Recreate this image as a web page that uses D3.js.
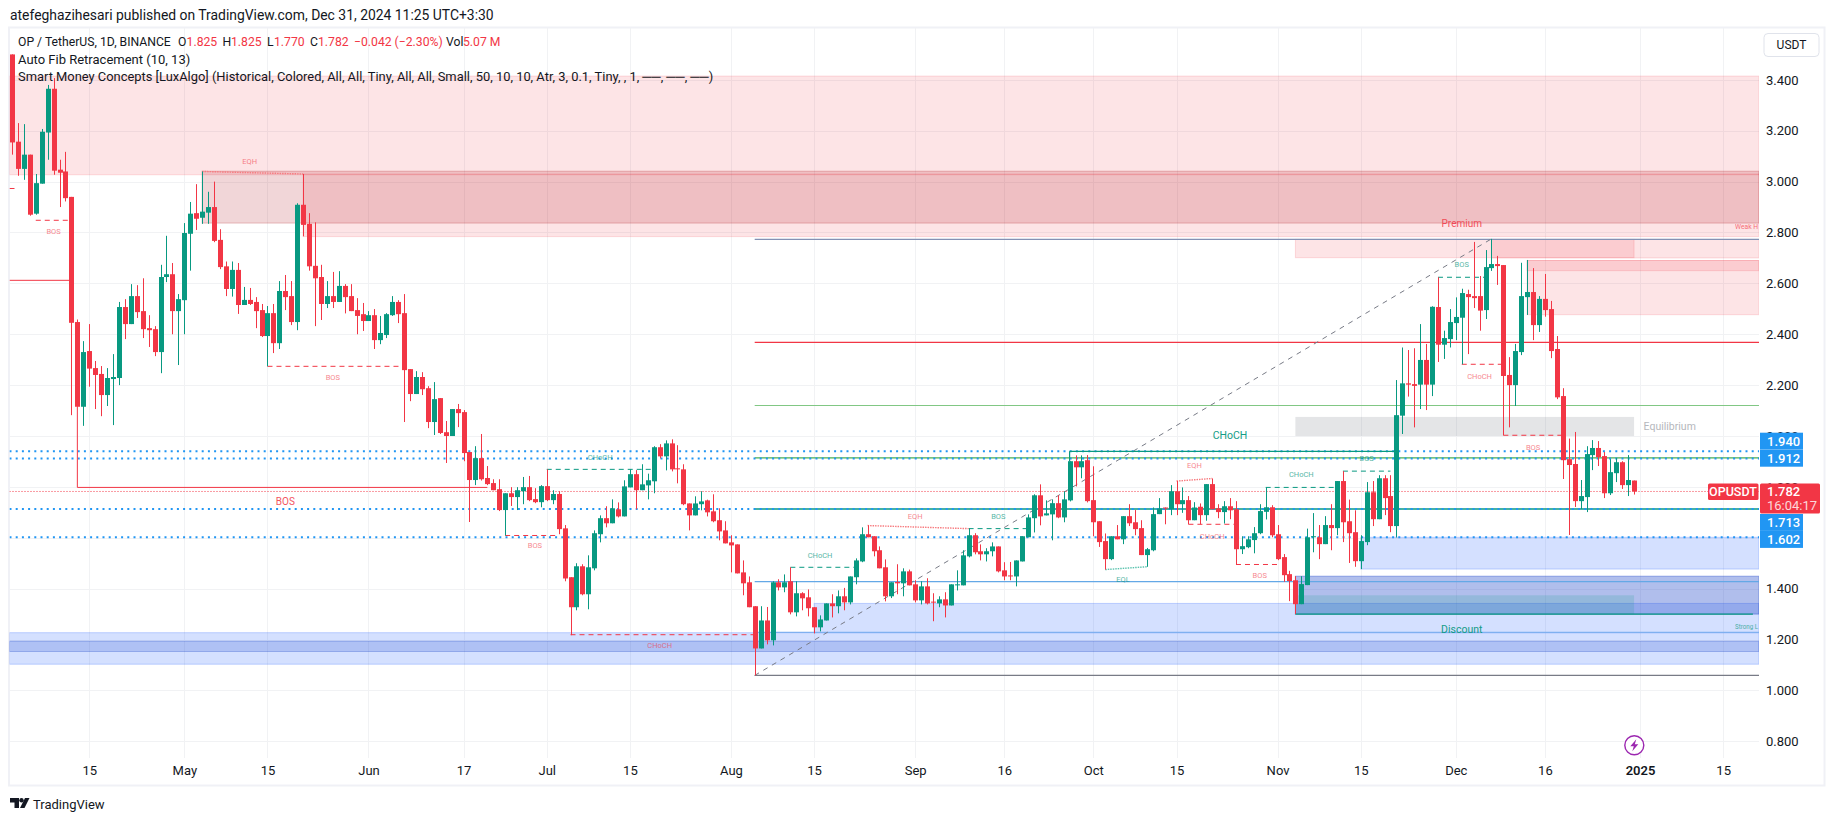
<!DOCTYPE html>
<html><head><meta charset="utf-8">
<script src="https://cdn.jsdelivr.net/npm/d3@7/dist/d3.min.js"></script>
<style>html,body{margin:0;padding:0;background:#fff}svg{display:block}text{font-family:Roboto,"Noto Sans",sans-serif}</style>
</head><body><div id="c"></div>
<script>
// [open, high, low, close] per day
const aprCandles=[[3.5,3.5,3.106,3.154],[3.157,3.23,3.023,3.05],[3.05,3.226,3.007,3.106],[3.106,3.106,2.866,2.87],[2.874,3.03,2.87,2.994],[2.992,3.207,2.992,3.196],[3.193,3.38,3.086,3.365],[3.365,3.407,3.027,3.043],[3.047,3.086,2.9,3.035],[3.04,3.117,2.922,2.935],[2.94,2.94,2.082,2.445],[2.448,2.458,2.115,2.115],[2.115,2.373,2.04,2.33],[2.334,2.44,2.194,2.265],[2.267,2.295,2.106,2.24],[2.244,2.275,2.078,2.161],[2.161,2.267,2.118,2.228],[2.224,2.322,2.043,2.232],[2.228,2.527,2.2,2.507],[2.507,2.538,2.381,2.44],[2.44,2.597,2.44,2.55],[2.55,2.593,2.464,2.487],[2.491,2.62,2.385,2.42],[2.424,2.475,2.35,2.416],[2.42,2.432,2.314,2.33],[2.33,2.673,2.247,2.625],[2.625,2.787,2.605,2.636],[2.636,2.68,2.4,2.491],[2.491,2.558,2.279,2.538]];
const mayCandles=[[2.534,2.837,2.4,2.798],[2.795,2.92,2.65,2.874],[2.876,2.99,2.81,2.854],[2.858,3.04,2.834,2.882],[2.878,2.96,2.834,2.9],[2.9,3.0,2.762,2.767],[2.771,2.813,2.656,2.664],[2.667,2.686,2.55,2.578],[2.578,2.686,2.548,2.653],[2.653,2.68,2.48,2.515],[2.515,2.586,2.515,2.535],[2.535,2.582,2.515,2.519],[2.527,2.546,2.424,2.491],[2.495,2.519,2.389,2.393],[2.393,2.511,2.274,2.483],[2.483,2.519,2.326,2.365],[2.365,2.609,2.342,2.57],[2.57,2.633,2.495,2.546],[2.55,2.609,2.436,2.448],[2.448,2.915,2.416,2.909],[2.909,3.03,2.785,2.83],[2.834,2.876,2.65,2.667],[2.669,2.84,2.432,2.62],[2.625,2.673,2.456,2.519],[2.519,2.609,2.503,2.55],[2.55,2.645,2.503,2.527],[2.527,2.648,2.527,2.59],[2.59,2.597,2.482,2.546],[2.55,2.597,2.491,2.491],[2.495,2.542,2.4,2.472],[2.479,2.523,2.413,2.452]];
const junCandles=[[2.452,2.491,2.452,2.475],[2.475,2.499,2.342,2.377],[2.377,2.472,2.361,2.405],[2.397,2.483,2.385,2.479],[2.475,2.55,2.472,2.527],[2.527,2.534,2.444,2.479],[2.483,2.558,2.055,2.259],[2.263,2.263,2.137,2.165],[2.165,2.255,2.165,2.232],[2.232,2.251,2.161,2.184],[2.188,2.196,2.031,2.055],[2.055,2.212,2.004,2.145],[2.149,2.149,2.008,2.012],[2.015,2.059,1.894,2.0],[2.0,2.106,2.0,2.106],[2.106,2.126,2.035,2.09],[2.094,2.102,1.901,1.933],[1.937,1.937,1.662,1.827],[1.827,1.96,1.807,1.913],[1.913,2.008,1.825,1.83],[1.835,1.882,1.807,1.811],[1.815,1.83,1.787,1.787],[1.791,1.83,1.705,1.709],[1.709,1.775,1.609,1.775],[1.775,1.799,1.725,1.76],[1.76,1.799,1.709,1.787],[1.783,1.839,1.732,1.799],[1.799,1.843,1.744,1.748],[1.752,1.795,1.736,1.74],[1.74,1.807,1.72,1.803]];
const julCandles=[[1.803,1.869,1.744,1.748],[1.748,1.787,1.732,1.772],[1.772,1.783,1.614,1.634],[1.637,1.65,1.429,1.44],[1.445,1.445,1.217,1.327],[1.327,1.5,1.315,1.488],[1.488,1.496,1.374,1.378],[1.378,1.531,1.319,1.484],[1.48,1.629,1.472,1.618],[1.614,1.688,1.582,1.677],[1.677,1.724,1.641,1.657],[1.657,1.751,1.657,1.716],[1.712,1.739,1.68,1.684],[1.684,1.826,1.684,1.802],[1.798,1.869,1.798,1.85],[1.85,1.866,1.712,1.787],[1.787,1.889,1.787,1.81],[1.806,1.852,1.751,1.826],[1.822,1.96,1.775,1.956],[1.956,1.968,1.912,1.92],[1.92,1.983,1.865,1.971],[1.971,1.987,1.861,1.869],[1.873,1.964,1.814,1.869],[1.869,1.889,1.728,1.732],[1.735,1.735,1.629,1.688],[1.688,1.763,1.688,1.735],[1.732,1.783,1.708,1.743],[1.747,1.75,1.684,1.7],[1.704,1.771,1.661,1.665],[1.669,1.716,1.59,1.625],[1.629,1.665,1.578,1.578]];
const augCandles=[[1.582,1.61,1.464,1.57],[1.574,1.574,1.46,1.46],[1.464,1.511,1.374,1.421],[1.425,1.448,1.327,1.327],[1.331,1.331,1.059,1.165],[1.165,1.331,1.165,1.275],[1.275,1.328,1.181,1.197],[1.197,1.429,1.177,1.425],[1.425,1.437,1.393,1.405],[1.405,1.456,1.386,1.425],[1.429,1.484,1.299,1.307],[1.307,1.429,1.291,1.382],[1.382,1.386,1.315,1.362],[1.366,1.397,1.291,1.323],[1.327,1.327,1.224,1.248],[1.248,1.295,1.232,1.279],[1.275,1.342,1.275,1.342],[1.342,1.378,1.287,1.331],[1.331,1.393,1.303,1.37],[1.37,1.403,1.315,1.346],[1.346,1.448,1.338,1.448],[1.445,1.519,1.417,1.511],[1.507,1.641,1.504,1.614],[1.614,1.649,1.602,1.602],[1.606,1.606,1.527,1.547],[1.551,1.566,1.48,1.48],[1.484,1.515,1.35,1.37],[1.37,1.425,1.363,1.425],[1.426,1.496,1.378,1.421],[1.421,1.48,1.37,1.468],[1.468,1.475,1.413,1.413]];
const sepCandles=[[1.417,1.433,1.346,1.354],[1.354,1.429,1.338,1.409],[1.409,1.441,1.338,1.342],[1.349,1.382,1.272,1.346],[1.342,1.37,1.327,1.358],[1.358,1.386,1.287,1.334],[1.334,1.417,1.334,1.417],[1.413,1.472,1.393,1.417],[1.413,1.551,1.413,1.531],[1.527,1.637,1.523,1.61],[1.61,1.618,1.535,1.543],[1.547,1.574,1.511,1.535],[1.535,1.559,1.507,1.547],[1.547,1.582,1.527,1.566],[1.566,1.566,1.464,1.468],[1.472,1.504,1.433,1.448],[1.452,1.505,1.433,1.448],[1.448,1.511,1.409,1.511],[1.507,1.606,1.507,1.606],[1.602,1.692,1.602,1.68],[1.677,1.771,1.621,1.767],[1.767,1.81,1.649,1.684],[1.688,1.747,1.688,1.696],[1.692,1.751,1.59,1.736],[1.736,1.767,1.677,1.68],[1.68,1.783,1.661,1.751],[1.747,1.901,1.743,1.901],[1.901,1.924,1.802,1.877],[1.877,1.924,1.834,1.901],[1.905,1.925,1.739,1.744]];
const octCandles=[[1.748,1.881,1.606,1.661],[1.665,1.665,1.564,1.583],[1.587,1.617,1.475,1.516],[1.516,1.606,1.512,1.606],[1.606,1.65,1.594,1.594],[1.594,1.685,1.575,1.685],[1.685,1.732,1.646,1.657],[1.661,1.709,1.61,1.634],[1.638,1.669,1.532,1.532],[1.532,1.56,1.486,1.555],[1.551,1.719,1.547,1.693],[1.693,1.756,1.693,1.715],[1.719,1.719,1.653,1.715],[1.712,1.807,1.689,1.783],[1.783,1.823,1.689,1.732],[1.732,1.798,1.698,1.748],[1.748,1.764,1.653,1.669],[1.669,1.74,1.669,1.719],[1.722,1.735,1.653,1.689],[1.689,1.811,1.667,1.811],[1.811,1.833,1.712,1.712],[1.716,1.732,1.677,1.701],[1.701,1.744,1.656,1.724],[1.724,1.756,1.673,1.708],[1.712,1.744,1.495,1.555],[1.555,1.606,1.536,1.567],[1.563,1.606,1.559,1.594],[1.591,1.642,1.539,1.618],[1.618,1.732,1.614,1.705],[1.702,1.798,1.672,1.72],[1.72,1.728,1.602,1.61]];
const novCandles=[[1.614,1.65,1.512,1.516],[1.524,1.536,1.427,1.453],[1.457,1.47,1.351,1.43],[1.433,1.449,1.3,1.339],[1.339,1.449,1.339,1.418],[1.414,1.636,1.414,1.602],[1.602,1.697,1.543,1.606],[1.602,1.65,1.516,1.575],[1.575,1.685,1.575,1.65],[1.65,1.732,1.551,1.638],[1.638,1.823,1.61,1.823],[1.823,1.862,1.583,1.661],[1.665,1.75,1.501,1.618],[1.622,1.708,1.486,1.508],[1.508,1.61,1.477,1.587],[1.583,1.819,1.571,1.779],[1.779,1.823,1.646,1.673],[1.673,1.846,1.673,1.834],[1.834,1.846,1.689,1.756],[1.764,1.846,1.622,1.646],[1.646,2.22,1.601,2.082],[2.08,2.348,2.008,2.207],[2.207,2.338,2.155,2.202],[2.204,2.345,2.034,2.197],[2.202,2.44,2.106,2.299],[2.299,2.362,2.102,2.202],[2.202,2.51,2.157,2.508],[2.507,2.624,2.291,2.359],[2.359,2.414,2.303,2.385],[2.381,2.499,2.348,2.448]];
const decCandles=[[2.444,2.545,2.377,2.468],[2.465,2.579,2.282,2.562],[2.558,2.575,2.322,2.546],[2.55,2.763,2.503,2.542],[2.55,2.629,2.414,2.493],[2.495,2.731,2.46,2.664],[2.66,2.775,2.649,2.676],[2.676,2.708,2.594,2.668],[2.672,2.672,2.003,2.236],[2.24,2.31,2.034,2.2],[2.2,2.362,2.118,2.334],[2.33,2.681,2.318,2.55],[2.546,2.692,2.476,2.566],[2.566,2.66,2.377,2.436],[2.436,2.55,2.409,2.539],[2.539,2.637,2.469,2.495],[2.499,2.531,2.306,2.334],[2.342,2.393,2.145,2.152],[2.157,2.188,1.831,1.905],[1.909,1.99,1.611,1.886],[1.89,2.016,1.721,1.744],[1.744,1.827,1.713,1.764],[1.76,1.96,1.701,1.929],[1.925,1.984,1.866,1.953],[1.953,1.98,1.882,1.917],[1.921,1.937,1.756,1.775],[1.775,1.909,1.768,1.858],[1.854,1.913,1.819,1.897],[1.897,1.901,1.792,1.807],[1.807,1.925,1.764,1.827],[1.825,1.825,1.77,1.782]];

const firstDay="2024-04-02";
const priceTicks=[0.8,1.0,1.2,1.4,1.6,1.8,2.0,2.2,2.4,2.6,2.8,3.0,3.2,3.4];
const timeTicks=["2024-04-15","2024-05-01","2024-05-15","2024-06-01","2024-06-17","2024-07-01","2024-07-15","2024-08-01","2024-08-15","2024-09-01","2024-09-16","2024-10-01","2024-10-15","2024-11-01","2024-11-15","2024-12-01","2024-12-16","2025-01-01","2025-01-15"];
const timeLabels=["15","May","15","Jun","17","Jul","15","Aug","15","Sep","16","Oct","15","Nov","15","Dec","16","2025","15"];

// zones: [from, to, price low, price high, kind]; null means the pane edge
const zones=[
 [null,null,3.027,3.415,"red"],
 ["2024-05-21",null,2.784,3.03,"red"],
 ["2024-05-04",null,2.837,3.041,"maroon"],
 ["2024-12-07",null,2.70,2.773,"red"],
 ["2024-12-13",null,2.477,2.69,"red"],
 ["2024-12-13",null,2.65,2.69,"red"],
 ["2024-11-04","2024-12-31",2.701,2.773,"red"],
 ["2024-11-04","2024-12-31",2.0,2.075,"grey"],
 [null,null,1.103,1.227,"blue"],
 [null,null,1.153,1.193,"band"],
 ["2024-08-15",null,1.227,1.342,"blue"],
 ["2024-11-15",null,1.477,1.602,"blue"],
 ["2024-11-04",null,1.30,1.449,"navy"],
 ["2024-11-04","2024-12-31",1.30,1.374,"teal"]];

// fib levels that start at the Aug 5 low
const fibStart="2024-08-05";
const fibLevels=[[2.773,"#8391b4"],[2.368,"#f23645"],[2.12,"#81c784"],[1.914,"#4caf50"],[1.713,"#089981"],[1.4275,"#64a8e6"],[1.228,"#7fb0f0"],[1.059,"#787b86"]];
const fibTrend=[["2024-08-05",1.059],["2024-12-07",2.775]];

const dottedLevels=[1.940,1.912,1.713,1.602];
const lastPrice=1.782;

// structure lines: [from, price, to, price, kind]
const structure=[
 [null,2.973,"2024-04-03",2.973,"dashRed"],["2024-04-06",2.848,"2024-04-12",2.848,"dashRed"],
 [null,2.612,"2024-04-12",2.612,"solidRed"],
 ["2024-05-15",2.274,"2024-06-07",2.274,"dashRed"],["2024-06-24",1.609,"2024-07-03",1.609,"dashRed"],
 ["2024-07-01",1.869,"2024-07-19",1.869,"dashGreen"],["2024-07-05",1.219,"2024-08-05",1.219,"dashRed"],
 ["2024-08-11",1.484,"2024-08-22",1.484,"dashGreen"],["2024-09-10",1.636,"2024-09-20",1.636,"dashGreen"],
 ["2024-10-17",1.653,"2024-10-25",1.653,"dashRed"],["2024-10-25",1.495,"2024-11-01",1.495,"dashRed"],
 ["2024-10-30",1.798,"2024-11-11",1.798,"dashGreen"],["2024-11-12",1.862,"2024-11-20",1.862,"dashGreen"],
 ["2024-11-28",2.624,"2024-12-06",2.624,"dashGreen"],["2024-12-02",2.282,"2024-12-09",2.282,"dashRed"],
 ["2024-12-09",2.003,"2024-12-19",2.003,"dashRed"],
 ["2024-05-04",3.04,"2024-05-21",3.03,"dotRed"],["2024-08-24",1.648,"2024-09-10",1.636,"dotRed"],
 ["2024-10-15",1.823,"2024-10-21",1.833,"dotRed"],["2024-10-03",1.475,"2024-10-10",1.486,"dotGreen"],
 ["2024-04-13",2.115,"2024-04-13",1.798,"solidRed"],["2024-04-13",1.798,"2024-06-21",1.798,"solidRed"],
 ["2024-09-27",1.90,"2024-09-27",1.94,"solidGreen"],["2024-09-27",1.94,"2024-11-21",1.94,"solidGreen"],
 ["2024-11-04",1.30,"2025-01-20",1.30,"solidGreen"]];

// pane labels: [text, date, price, kind]
const paneLabels=[
 ["BOS","2024-04-09",2.802,"r"],["EQH","2024-05-12",3.078,"r"],["BOS","2024-05-18",1.742,"R"],["BOS","2024-05-26",2.231,"r"],
 ["BOS","2024-06-29",1.568,"r"],["CHoCH","2024-07-10",1.915,"g"],["CHoCH","2024-07-20",1.177,"r"],["CHoCH","2024-08-16",1.531,"g"],
 ["EQH","2024-09-01",1.683,"r"],["BOS","2024-09-15",1.683,"g"],["CHoCH","2024-10-24",2.001,"G"],["EQH","2024-10-18",1.883,"r"],
 ["EQL","2024-10-06",1.437,"g"],["CHoCH","2024-10-21",1.606,"r"],["CHoCH","2024-11-05",1.848,"g"],["BOS","2024-11-16",1.911,"g"],
 ["BOS","2024-10-29",1.453,"r"],["BOS","2024-12-02",2.675,"g"],["CHoCH","2024-12-05",2.235,"r"],["BOS","2024-12-14",1.956,"r"],
 ["Premium","2024-12-02",2.835,"R"],["Discount","2024-12-02",1.241,"G"],["Equilibrium","2025-01-06",2.037,"e"]];
const clippedLabels=[["Weak H","2025-01-17",2.822,"#f23645"],["Strong L","2025-01-17",1.25,"#089981"]];

const bluePriceTags=[1.940,1.912,1.713,1.602];
const headerLine="atefeghazihesari published on TradingView.com, Dec 31, 2024 11:25 UTC+3:30";
const legendOHLC=[["O","1.825"],["H","1.825"],["L","1.770"],["C","1.782"]];

// ---------------- drawing
const W=1835,H=821,paneL=9.5,paneR=1759,paneT=28,paneB=758;
const GREEN="#089981",RED="#f23645",BLUE="#2196f3",TXT="#131722";
const svg=d3.select("#c").append("svg").attr("width",W).attr("height",H);
const date=s=>new Date(s+"T00:00:00Z");
const x=d3.scaleUtc().domain([date("2024-05-01"),date("2025-01-01")]).range([184.3,1640]);
const y=d3.scaleLinear().domain([0.8,3.4]).range([741.3,741.3-2.6*254.4]);
const X=s=>s===null?paneL:x(date(s));
const XR=s=>s===null?paneR:x(date(s));
const candles=[...aprCandles,...mayCandles,...junCandles,...julCandles,...augCandles,...sepCandles,...octCandles,...novCandles,...decCandles]
 .map((c,i)=>({t:d3.utcDay.offset(date(firstDay),i),o:c[0],h:c[1],l:c[2],c:c[3]}));

svg.append("defs").append("clipPath").attr("id","pane").append("rect").attr("x",paneL).attr("y",paneT).attr("width",paneR-paneL).attr("height",paneB-paneT);
svg.append("rect").attr("x",9).attr("y",27.5).attr("width",1815.5).attr("height",758).attr("fill","none").attr("stroke","#f0f1f6").attr("stroke-width",2);

const g=svg.append("g").attr("clip-path","url(#pane)");
// grid
g.append("g").selectAll("line").data(priceTicks).join("line").attr("x1",paneL).attr("x2",paneR).attr("y1",d=>Math.round(y(d))+.5).attr("y2",d=>Math.round(y(d))+.5).attr("stroke","#f1f2f4");
g.append("g").selectAll("line").data(timeTicks).join("line").attr("x1",d=>Math.round(X(d))+.5).attr("x2",d=>Math.round(X(d))+.5).attr("y1",paneT).attr("y2",paneB).attr("stroke","#f1f2f4");

// zones
const zoneFill={red:"rgba(242,54,69,.135)",maroon:"rgba(167,2,10,.16)",grey:"rgba(120,123,134,.2)",blue:"rgba(41,98,255,.2)",band:"rgba(30,70,200,.2)",navy:"rgba(30,70,200,.35)",teal:"rgba(8,153,129,.16)"};
const zoneLine={red:"rgba(242,54,69,.16)",maroon:"rgba(167,2,10,.22)",grey:"none",blue:"rgba(41,98,255,.25)",band:"rgba(30,70,200,.3)",navy:"rgba(30,70,200,.4)",teal:"none"};
g.append("g").selectAll("rect").data(zones).join("rect")
 .attr("x",d=>X(d[0])).attr("width",d=>XR(d[1])-X(d[0])).attr("y",d=>y(d[3])).attr("height",d=>y(d[2])-y(d[3]))
 .attr("fill",d=>zoneFill[d[4]]).attr("stroke",d=>zoneLine[d[4]]);

// fib
g.append("g").selectAll("line").data(fibLevels).join("line").attr("x1",X(fibStart)).attr("x2",paneR)
 .attr("y1",d=>y(d[0])).attr("y2",d=>y(d[0])).attr("stroke",d=>d[1]).attr("stroke-width",d=>d[0]===1.713?1.6:1.1);
g.append("line").attr("x1",X(fibTrend[0][0])).attr("y1",y(fibTrend[0][1])).attr("x2",X(fibTrend[1][0])).attr("y2",y(fibTrend[1][1]))
 .attr("stroke","#787b86").attr("stroke-width",1).attr("stroke-dasharray","5 5");

// dotted levels
g.append("g").selectAll("line").data(dottedLevels).join("line").attr("x1",paneL).attr("x2",paneR).attr("y1",d=>y(d)).attr("y2",d=>y(d))
 .attr("stroke",BLUE).attr("stroke-width",2).attr("stroke-dasharray","2 4.2");
g.append("line").attr("x1",paneL).attr("x2",paneR).attr("y1",y(lastPrice)).attr("y2",y(lastPrice)).attr("stroke",RED).attr("stroke-width",1).attr("stroke-dasharray","1 2");

// structure
const sStyle={dashRed:[RED,"5 4",1],dashGreen:[GREEN,"5 4",1],dotRed:["#f77c80","1.5 1",1.4],dotGreen:["#5cc3af","1.5 1",1.4],solidRed:[RED,"none",1],solidGreen:[GREEN,"none",1.2]};
g.append("g").selectAll("line").data(structure).join("line")
 .attr("x1",d=>X(d[0])).attr("y1",d=>y(d[1])).attr("x2",d=>X(d[2])).attr("y2",d=>y(d[3]))
 .attr("stroke",d=>sStyle[d[4]][0]).attr("stroke-dasharray",d=>sStyle[d[4]][1]).attr("stroke-width",d=>sStyle[d[4]][2]);

// candles
const cg=g.append("g").selectAll("g").data(candles).join("g").attr("fill",d=>d.c>=d.o?GREEN:RED).attr("stroke",d=>d.c>=d.o?GREEN:RED);
cg.append("line").attr("x1",d=>Math.round(x(d.t))+.5).attr("x2",d=>Math.round(x(d.t))+.5).attr("y1",d=>y(d.h)).attr("y2",d=>y(d.l)).attr("stroke-width",1);
cg.append("rect").attr("stroke","none").attr("x",d=>Math.round(x(d.t))-2).attr("width",5)
 .attr("y",d=>y(Math.max(d.o,d.c))).attr("height",d=>Math.max(1,Math.abs(y(d.o)-y(d.c))));

// pane labels
const lblStyle={r:[RED,7.5,.6],R:[RED,10,.85],g:[GREEN,7.5,.7],G:[GREEN,10.5,.95],e:["#787b86",10.5,.55]};
g.append("g").selectAll("text").data(paneLabels).join("text").attr("x",d=>X(d[1])).attr("y",d=>y(d[2])).attr("text-anchor","middle").attr("dominant-baseline","central")
 .text(d=>d[0]).attr("fill",d=>lblStyle[d[3]][0]).attr("font-size",d=>lblStyle[d[3]][1]).attr("opacity",d=>lblStyle[d[3]][2]);
g.append("g").selectAll("text").data(clippedLabels).join("text").attr("x",d=>X(d[1])).attr("y",d=>y(d[2])).attr("dominant-baseline","central")
 .text(d=>d[0]).attr("fill",d=>d[3]).attr("font-size",8).attr("opacity",.7).attr("textLength",23).attr("lengthAdjust","spacingAndGlyphs");

// axes
const ya=svg.append("g").attr("transform",`translate(${paneR+1},0)`).call(d3.axisRight(y).tickValues(priceTicks).tickSize(0).tickPadding(6).tickFormat(d3.format(".3f")));
ya.select(".domain").remove();
ya.selectAll("text").attr("font-size",13).attr("fill",TXT).attr("font-family","Roboto,sans-serif").attr("x",6);
const xa=svg.append("g").attr("transform",`translate(0,${paneB})`).call(d3.axisBottom(x).tickValues(timeTicks.map(date)).tickSize(0).tickPadding(8).tickFormat((d,i)=>timeLabels[i]));
xa.select(".domain").remove();
xa.selectAll("text").attr("font-size",13).attr("fill",TXT).attr("font-family","Roboto,sans-serif").attr("font-weight",(d,i)=>timeLabels[i]==="2025"?600:400);

// price tags
const tagH=16.9;
bluePriceTags.forEach((p,i)=>{
 const row=[432.7,449.8,514,531][i];
 svg.append("rect").attr("x",1760).attr("y",row).attr("width",43).attr("height",tagH).attr("fill",BLUE);
 svg.append("text").attr("x",1767).attr("y",row+tagH/2).attr("dominant-baseline","central").attr("fill","#fff").attr("font-size",13).attr("font-weight",500).text(p.toFixed(3));
});
svg.append("rect").attr("x",1708).attr("y",483.5).attr("width",50.5).attr("height",16.5).attr("rx",1.5).attr("fill",RED);
svg.append("text").attr("x",1733).attr("y",491.8).attr("text-anchor","middle").attr("dominant-baseline","central").attr("fill","#fff").attr("font-size",12.5).attr("font-weight",500).text("OPUSDT");
svg.append("rect").attr("x",1760).attr("y",483.5).attr("width",60).attr("height",30).attr("rx",1.5).attr("fill",RED);
svg.append("text").attr("x",1767).attr("y",491.8).attr("dominant-baseline","central").attr("fill","#fff").attr("font-size",13).attr("font-weight",500).text(lastPrice.toFixed(3));
svg.append("text").attr("x",1767).attr("y",505.5).attr("dominant-baseline","central").attr("fill","#fff").attr("opacity",.8).attr("font-size",13).text("16:04:17");

// USDT button
svg.append("rect").attr("x",1764).attr("y",33.5).attr("width",55).attr("height",23).attr("rx",4).attr("fill","#fff").attr("stroke","#e0e3eb");
svg.append("text").attr("x",1791.5).attr("y",45).attr("text-anchor","middle").attr("dominant-baseline","central").attr("font-size",12).attr("fill",TXT).text("USDT");

// header
svg.append("text").attr("x",10).attr("y",15).attr("dominant-baseline","central").attr("font-size",13.9).attr("fill",TXT).text(headerLine);
const leg=svg.append("text").attr("y",41.5).attr("dominant-baseline","central").attr("font-size",12.2).attr("fill",TXT);
leg.append("tspan").attr("x",18).text("OP / TetherUS, 1D, BINANCE");
[[178,186.6],[222.6,231],[267,274],[310,318]].forEach((p,i)=>{
 leg.append("tspan").attr("x",p[0]).text(legendOHLC[i][0]);
 leg.append("tspan").attr("x",p[1]).attr("fill",RED).text(legendOHLC[i][1]);
});
leg.append("tspan").attr("x",354).attr("fill",RED).text("−0.042 (−2.30%)");
leg.append("tspan").attr("x",446).text("Vol");
leg.append("tspan").attr("x",463).attr("fill",RED).text("5.07 M");
svg.append("text").attr("x",18).attr("y",59).attr("dominant-baseline","central").attr("font-size",13).attr("fill",TXT).text("Auto Fib Retracement (10, 13)");
svg.append("text").attr("x",18).attr("y",76).attr("dominant-baseline","central").attr("font-size",12.9).attr("fill",TXT).text("Smart Money Concepts [LuxAlgo] (Historical, Colored, All, All, Tiny, All, All, Small, 50, 10, 10, Atr, 3, 0.1, Tiny, , 1, ──, ──, ──)");

// lightning icon
const ic=svg.append("g").attr("transform","translate(1634.3,745.3)");
ic.append("circle").attr("r",9.5).attr("fill","#fff").attr("stroke","#9c27b0").attr("stroke-width",1.4);
ic.append("path").attr("d","M2,-6 L-4,1 L-.5,1 L-2,6 L4,-1 L.5,-1 Z").attr("fill","#9c27b0");

// footer
const lg=svg.append("g").attr("transform","translate(10,798)").attr("fill","#131722");
lg.append("path").attr("d","M0,0 H9 V10 H4.5 V4.5 H0 Z");
lg.append("circle").attr("cx",11.5).attr("cy",2.2).attr("r",2.2);
lg.append("path").attr("d","M15,0 H19.5 L14.5,10 H10 Z");
svg.append("text").attr("x",33).attr("y",804).attr("dominant-baseline","central").attr("font-size",13).attr("fill",TXT).text("TradingView");
</script></body></html>
